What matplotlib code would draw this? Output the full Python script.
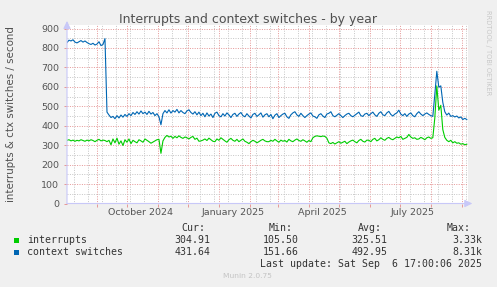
import matplotlib
matplotlib.use("Agg")
import matplotlib.pyplot as plt
import matplotlib.dates as mdates
from matplotlib.patches import Rectangle
from matplotlib.ticker import MultipleLocator, FixedLocator, NullFormatter
import numpy as np
import pandas as pd

# one sample every 2 days, starting 2024-08-02
first_day = "2024-08-02"
context_switches = [
    828, 840, 836, 842, 830, 826, 832, 838, 830, 836, 828, 822, 818, 824, 815, 820, 832, 812, 818,
    848,
    470, 455, 442, 448, 436, 452, 440, 455, 444, 458, 448, 462, 452,
    468, 458, 472, 460, 476, 462, 470, 458, 474, 460, 468, 452, 462, 446,
    405,
    462, 478, 466, 482, 465, 478, 470, 484, 466, 478, 468, 462, 476, 482, 468, 460, 472, 456, 470,
    452, 464, 446, 466, 450, 460, 442, 464, 470, 452, 446, 462, 450, 466, 456, 442, 458, 464, 448,
    460, 468, 452, 446, 462, 450, 440, 458, 464, 448, 456, 466, 444, 456, 462,
    446, 458, 436, 454, 462, 442, 452, 460, 464, 446, 438, 456, 466, 472, 456, 448, 464, 452, 442,
    452, 460, 466, 450, 446, 438, 456, 462, 450, 442, 460, 464, 472, 452, 446, 454, 462, 452, 442,
    452, 460, 464, 452, 446, 454, 462, 470, 452, 448, 460, 464,
    452, 462, 470, 456, 448, 464, 472, 456, 452, 466, 474, 458, 450, 460, 466, 480, 460, 452, 462,
    448, 460, 466, 452, 446, 462, 472, 460, 452, 460, 466, 458, 452, 448,
    560, 680, 598, 605, 520, 472, 455, 465, 448, 452, 445, 450, 440, 445, 432, 438, 432,
]
interrupts = [
    325, 328, 322, 326, 320, 325, 322, 328, 324, 320, 326, 322, 328, 324, 318, 325, 330, 322, 326,
    324,
    318, 325, 302, 332, 312, 336, 305, 322, 298, 328, 315, 332, 308, 325, 318, 312, 328, 322, 315,
    332, 325, 318, 310, 316, 322, 328, 330,
    258,
    322, 340, 350, 342, 346, 335, 345, 338, 348, 340, 335, 342, 338, 332, 340, 345, 330, 336, 320,
    322, 326, 332, 324, 336, 328, 320, 318, 332, 325, 338, 330, 322, 315, 328, 335, 325, 320, 330,
    318, 325, 332, 320, 315, 308, 318, 325, 320, 312, 318, 325, 330, 322, 318,
    318, 325, 320, 330, 322, 315, 326, 320, 324, 316, 330, 322, 318, 326, 332, 324, 320, 328, 322,
    315, 324, 318,
    338, 345, 348, 346, 344, 347, 345, 336,
    312, 308, 314, 306, 312, 318, 310, 315, 320, 308, 316,
    322, 326, 318, 312, 324, 330, 320, 316, 326,
    325, 318, 330, 335, 322, 328, 338, 330, 325, 335, 340, 332, 328, 335, 342, 338, 345, 330, 335,
    340, 355, 342, 335, 338, 330, 332, 340, 335, 328, 338, 342, 335, 338,
    440, 605, 480, 505, 380, 340, 325, 318, 325, 312, 318, 310, 312, 305, 308, 302, 305,
]

series_names = ["interrupts", "context switches"]
series_colors = ["#00cc00", "#0066b3"]
cur_vals = ["304.91", "431.64"]
min_vals = ["105.50", "151.66"]
avg_vals = ["325.51", "492.95"]
max_vals = ["3.33k", "8.31k"]

month_labels = ["October 2024", "January 2025", "April 2025", "July 2025"]
month_label_dates = ["2024-10-15", "2025-01-15", "2025-04-15", "2025-07-14"]

W, H = 497, 287


def fx(px):
    return px / W


def fy(py):
    return 1 - py / H


dates = pd.date_range(first_day, periods=len(interrupts), freq="2D")

fig = plt.figure(figsize=(W / 100, H / 100), dpi=100, facecolor="#f0f0f0")
ax = fig.add_axes([fx(67), fy(203.5), fx(467.5) - fx(67), fy(25.4) - fy(203.5)])
ax.set_facecolor("white")
for s in ax.spines.values():
    s.set_visible(False)

ax.set_xlim(pd.Timestamp("2024-08-02"), pd.Timestamp("2025-09-06 17:00"))
ax.set_ylim(0, 916)

# grid
ax.yaxis.set_major_locator(MultipleLocator(100))
ax.yaxis.set_minor_locator(MultipleLocator(50))
ax.xaxis.set_major_locator(mdates.MonthLocator())
ax.xaxis.set_major_formatter(NullFormatter())
minor_days = pd.date_range("2024-08-09", "2025-09-06", freq="14D")
ax.xaxis.set_minor_locator(FixedLocator(mdates.date2num(minor_days)))
ax.set_axisbelow(True)
ax.grid(which="minor", color="#c8c8c8", linestyle=(0, (1, 1.4)), linewidth=0.72)
ax.grid(which="major", color="#e69a9a", linestyle=(0, (1, 1.4)), linewidth=0.72)

ax.tick_params(axis="x", which="major", length=2, color="#e69a9a", width=0.72)
ax.tick_params(axis="x", which="minor", length=0)
ax.tick_params(axis="y", which="major", length=2, color="#e69a9a", width=0.72,
               labelsize=6.8, labelcolor="#555555", pad=3.5)
ax.tick_params(axis="y", which="minor", length=0)

for lab, d in zip(month_labels, month_label_dates):
    ax.annotate(lab, xy=(pd.Timestamp(d), 0), xycoords=("data", "axes fraction"),
                xytext=(0, -6.3), textcoords="offset points", ha="center", va="center",
                fontsize=6.8, color="#555555", annotation_clip=False)

ax.plot(dates, interrupts, color=series_colors[0], lw=0.8)
ax.plot(dates, context_switches, color=series_colors[1], lw=0.8)

# axis lines with arrows
arrow = dict(arrowstyle="-|>,head_length=0.45,head_width=0.22", color="#c8c8f8",
             lw=0.8, shrinkA=0, shrinkB=0, mutation_scale=10)
ax.annotate("", xy=(0, 1.025), xytext=(0, 0), xycoords="axes fraction",
            arrowprops=arrow, annotation_clip=False)
ax.annotate("", xy=(1.012, 0), xytext=(0, 0), xycoords="axes fraction",
            arrowprops=arrow, annotation_clip=False)

fig.text(fx(248.3), fy(19.3), "Interrupts and context switches - by year",
         ha="center", va="center", fontsize=9, color="#505050")
fig.text(fx(11), fy(114.5), "interrupts & ctx switches / second", rotation=90,
         ha="center", va="center", fontsize=7.4, color="#505050")
fig.text(fx(488), fy(53), "RRDTOOL / TOBI OETIKER", rotation=270,
         ha="center", va="center", fontsize=4.8, color="#c8c8c8")

mono = dict(family="DejaVu Sans Mono", fontsize=7.1, color="#333333", va="center")
for lab, x in zip(["Cur:", "Min:", "Avg:", "Max:"], [181, 269, 358, 447]):
    fig.text(fx(x), fy(228), lab, ha="left", **mono)

rows_y = [240, 252]
for i, name in enumerate(series_names):
    y = rows_y[i]
    fig.add_artist(Rectangle((fx(14), fy(y + 2.5)), fx(5), 5 / H,
                             transform=fig.transFigure, color=series_colors[i], lw=0))
    fig.text(fx(26.7), fy(y), name, ha="left", **mono)
    for v, x in zip([cur_vals[i], min_vals[i], avg_vals[i], max_vals[i]],
                    [210.7, 299, 387.7, 482.3]):
        fig.text(fx(x), fy(y), v, ha="right", **mono)

fig.text(fx(482.3), fy(264), "Last update: Sat Sep  6 17:00:06 2025", ha="right", **mono)
fig.text(fx(247.7), fy(276), "Munin 2.0.75", ha="center", va="center",
         fontsize=5.4, color="#c4c4c4")

fig.savefig("out.png", dpi=100, facecolor=fig.get_facecolor())
